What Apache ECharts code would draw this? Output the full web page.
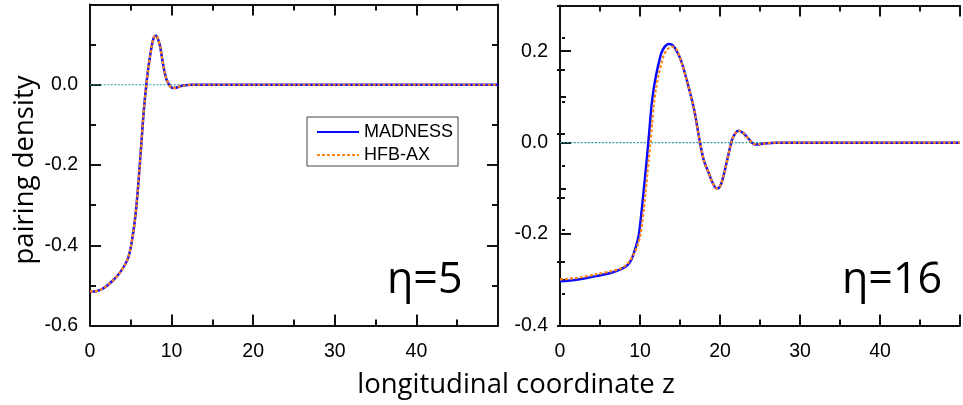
<!DOCTYPE html>
<html><head><meta charset="utf-8">
<script src="https://cdn.jsdelivr.net/npm/echarts@6/dist/echarts.min.js"></script>
<style>html,body{margin:0;padding:0;background:#fff}#c{width:963px;height:405px}</style>
</head><body><div id="c"></div>
<script>
// ---- data (z = longitudinal coordinate, value = pairing density) ----
const xTicks = [0, 10, 20, 30, 40];
const zeroZ = [0, 50];
const zeroV = [0, 0];

// eta = 5 panel
const leftZ = [0, 0.5, 1.2, 2.0, 2.9, 3.6, 4.3, 4.7, 5.0, 5.3, 5.5, 5.7, 5.9, 6.1, 6.3, 6.5, 6.7, 6.9, 7.1, 7.35, 7.6, 7.84, 8.1, 8.35, 8.6, 8.8, 9.0, 9.2, 9.4, 9.7, 10.0, 10.4, 10.9, 11.4, 12.5, 15, 20, 25, 30, 35, 40, 45, 50];
const leftMadness = [-0.515, -0.515, -0.512, -0.502, -0.486, -0.470, -0.448, -0.430, -0.405, -0.368, -0.338, -0.300, -0.252, -0.200, -0.145, -0.088, -0.040, 0.000, 0.035, 0.070, 0.100, 0.119, 0.122, 0.113, 0.095, 0.070, 0.046, 0.026, 0.012, 0.000, -0.007, -0.008, -0.005, -0.002, 0, 0, 0, 0, 0, 0, 0, 0, 0];
const leftHfb = [-0.515, -0.515, -0.512, -0.502, -0.486, -0.470, -0.448, -0.430, -0.405, -0.368, -0.338, -0.300, -0.252, -0.200, -0.145, -0.088, -0.040, 0.000, 0.035, 0.070, 0.100, 0.119, 0.122, 0.113, 0.095, 0.070, 0.046, 0.026, 0.012, 0.000, -0.007, -0.008, -0.005, -0.002, 0, 0, 0, 0, 0, 0, 0, 0, 0];

// eta = 16 panel
const rightZMad = [0, 1, 2.45, 4.5, 6.5, 7.7, 8.3, 8.7, 9.0, 9.48, 9.82, 10.0, 10.22, 10.43, 10.65, 10.84, 11.04, 11.25, 11.45, 11.75, 12.06, 12.4, 12.67, 13.1, 13.58, 14.0, 14.4, 15.1, 15.95, 16.77, 17.5, 18.0, 18.6, 19.0, 19.4, 19.7, 20.1, 20.5, 20.9, 21.5, 21.9, 22.3, 22.9, 23.7, 24.2, 24.7, 25.4, 27, 30, 35, 40, 45, 50];
const rightMadness = [-0.303, -0.302, -0.299, -0.292, -0.284, -0.276, -0.270, -0.262, -0.253, -0.228, -0.205, -0.182, -0.147, -0.111, -0.072, -0.038, 0.000, 0.043, 0.082, 0.122, 0.152, 0.178, 0.196, 0.210, 0.216, 0.214, 0.206, 0.181, 0.130, 0.072, 0.000, -0.040, -0.067, -0.085, -0.098, -0.100, -0.092, -0.068, -0.038, 0.006, 0.020, 0.026, 0.021, 0.006, -0.003, -0.004, -0.002, 0, 0, 0, 0, 0, 0];
const rightZHfb = [0, 1, 2.45, 4.5, 6.5, 7.7, 8.3, 8.7, 9.1, 9.63, 10.02, 10.22, 10.47, 10.68, 10.9, 11.09, 11.3, 11.52, 11.72, 12.03, 12.34, 12.68, 12.95, 13.4, 14.0, 14.6, 15.1, 15.95, 16.77, 17.5, 18.0, 18.6, 19.0, 19.4, 19.7, 20.1, 20.5, 20.9, 21.5, 21.9, 22.3, 22.9, 23.7, 24.2, 24.7, 25.4, 27, 30, 35, 40, 45, 50];
const rightHfb = [-0.299, -0.298, -0.295, -0.288, -0.281, -0.274, -0.267, -0.259, -0.248, -0.228, -0.205, -0.182, -0.147, -0.111, -0.072, -0.038, 0.000, 0.043, 0.082, 0.122, 0.150, 0.174, 0.190, 0.204, 0.210, 0.203, 0.180, 0.130, 0.072, 0.000, -0.040, -0.067, -0.085, -0.098, -0.100, -0.092, -0.068, -0.038, 0.006, 0.020, 0.026, 0.021, 0.006, -0.003, -0.004, -0.002, 0, 0, 0, 0, 0, 0];

const leftYLabels = [-0.6, -0.4, -0.2, 0.0];
const rightYLabels = [-0.4, -0.2, 0.0, 0.2];
const seriesNames = ['MADNESS', 'HFB-AX'];
const panelLabels = ['\u03b7=5', '\u03b7=16'];
const xTitle = 'longitudinal coordinate z';
const yTitle = 'pairing density';

// ---- helpers ----
const pairs = (xs, ys) => xs.map((x, i) => [x, ys[i]]);
const AX = '#111';
const labelFont = { fontFamily: 'Liberation Sans, Arial, sans-serif', fontSize: 19.5, color: '#000' };
const legendFont = { fontFamily: 'Liberation Sans, Arial, sans-serif', fontSize: 18, color: '#000' };
const inList = (list) => (v) => list.some(t => Math.abs(t - v) < 1e-6);

function xAxis(grid, pos, showLabel) {
  return {
    type: 'value', gridIndex: grid, position: pos, min: 0, max: 50, interval: 10,
    axisLine: { show: true, onZero: false, lineStyle: { color: AX, width: 2 } },
    axisTick: { show: true, inside: true, length: 11, lineStyle: { color: AX, width: 2 } },
    minorTick: { show: true, splitNumber: 2, length: 6, lineStyle: { color: AX, width: 2 } },
    splitLine: { show: false },
    axisLabel: { show: showLabel, margin: 16, ...labelFont,
      formatter: v => inList(xTicks)(v) ? String(v) : '' }
  };
}
function yAxis(grid, pos, min, max, interval, opts) {
  return Object.assign({
    type: 'value', gridIndex: grid, position: pos, min, max, interval,
    axisLine: { show: true, onZero: false, lineStyle: { color: AX, width: 2 } },
    axisTick: { show: true, inside: true, length: 11, lineStyle: { color: AX, width: 2 } },
    minorTick: { show: false },
    splitLine: { show: false },
    axisLabel: { show: false }
  }, opts || {});
}

const zeroStyle = { color: '#2f9e9e', width: 1.2, type: [2, 1.5] };
const madStyle = { color: '#0a0aff', width: 2.5, type: 'solid' };
const hfbStyle = { color: '#ff8410', width: 2.2, type: [3, 2] };

function line(name, data, xi, yi, style, z) {
  return { name, type: 'line', data, xAxisIndex: xi, yAxisIndex: yi, symbol: 'none',
    smooth: 0.3, lineStyle: style, itemStyle: { color: style.color }, z, silent: true, animation: false };
}

const option = {
  animation: false,
  grid: [
    { left: 90, top: 4.5, width: 408, height: 321 },
    { left: 560, top: 5.5, width: 407.5, height: 320 }
  ],
  xAxis: [ xAxis(0, 'bottom', true), xAxis(0, 'top', false), xAxis(1, 'bottom', true), xAxis(1, 'top', false) ],
  yAxis: [
    yAxis(0, 'left', -0.6, 0.2, 0.2, {
      minorTick: { show: true, splitNumber: 2, length: 6, lineStyle: { color: AX, width: 2 } },
      axisLabel: { show: true, margin: 12, ...labelFont, formatter: v => inList(leftYLabels)(v) ? v.toFixed(1) : '' } }),
    yAxis(0, 'right', -0.6, 0.2, 0.2, {
      minorTick: { show: true, splitNumber: 2, length: 6, lineStyle: { color: AX, width: 2 } } }),
    yAxis(1, 'left', -0.4, 0.3, 0.2, {
      axisLabel: { show: true, margin: 12, ...labelFont, formatter: v => inList(rightYLabels)(v) ? v.toFixed(1) : '' } }),
    yAxis(1, 'left', -0.4, 0.3, 0.1, {
      axisLine: { show: false }, axisTick: { show: true, inside: true, length: 6, lineStyle: { color: AX, width: 2 } } }),
    yAxis(1, 'right', 0, 5, 1, { offset: -5,
      axisLine: { show: false },
      axisTick: { show: true, inside: true, length: 8, lineStyle: { color: AX, width: 2 } },
      minorTick: { show: true, splitNumber: 2, length: 3, lineStyle: { color: AX, width: 2 } } })
  ],
  legend: {
    data: seriesNames, orient: 'vertical', left: 307, top: 117,
    itemWidth: 42, itemHeight: 14, itemGap: 5,
    padding: [6, 5, 2, 9],
    borderColor: '#444', borderWidth: 1, borderRadius: 0, backgroundColor: '#fff',
    itemStyle: { color: 'rgba(0,0,0,0)', borderColor: 'rgba(0,0,0,0)', borderWidth: 0, opacity: 0 },
    textStyle: { ...legendFont }, selectedMode: false
  },
  series: [
    line('zero', pairs(zeroZ, zeroV), 0, 0, zeroStyle, 1),
    line(seriesNames[0], pairs(leftZ, leftMadness), 0, 0, madStyle, 2),
    line(seriesNames[1], pairs(leftZ, leftHfb), 0, 0, hfbStyle, 3),
    line('zero2', pairs(zeroZ, zeroV), 2, 2, zeroStyle, 1),
    line(seriesNames[0], pairs(rightZMad, rightMadness), 2, 2, madStyle, 2),
    line(seriesNames[1], pairs(rightZHfb, rightHfb), 2, 2, hfbStyle, 3)
  ],
  graphic: [
    { type: 'text', x: 25, y: 170, rotation: Math.PI / 2,
      style: { text: yTitle, font: '27.5px "Open Sans", sans-serif', fill: '#000', align: 'center', verticalAlign: 'middle' } },
    { type: 'text', x: 516, y: 385,
      style: { text: xTitle, font: '27.5px "Open Sans", sans-serif', fill: '#000', align: 'center', verticalAlign: 'middle' } },
    { type: 'text', x: 387, y: 281,
      style: { text: panelLabels[0], font: '43px "Open Sans", sans-serif', fill: '#000', align: 'left', verticalAlign: 'middle' } },
    { type: 'text', x: 842, y: 281,
      style: { text: panelLabels[1], font: '43px "Open Sans", sans-serif', fill: '#000', align: 'left', verticalAlign: 'middle' } }
  ]
};
const chart = echarts.init(document.getElementById('c'), null, { renderer: 'canvas' });
chart.setOption(option);
</script></body></html>
